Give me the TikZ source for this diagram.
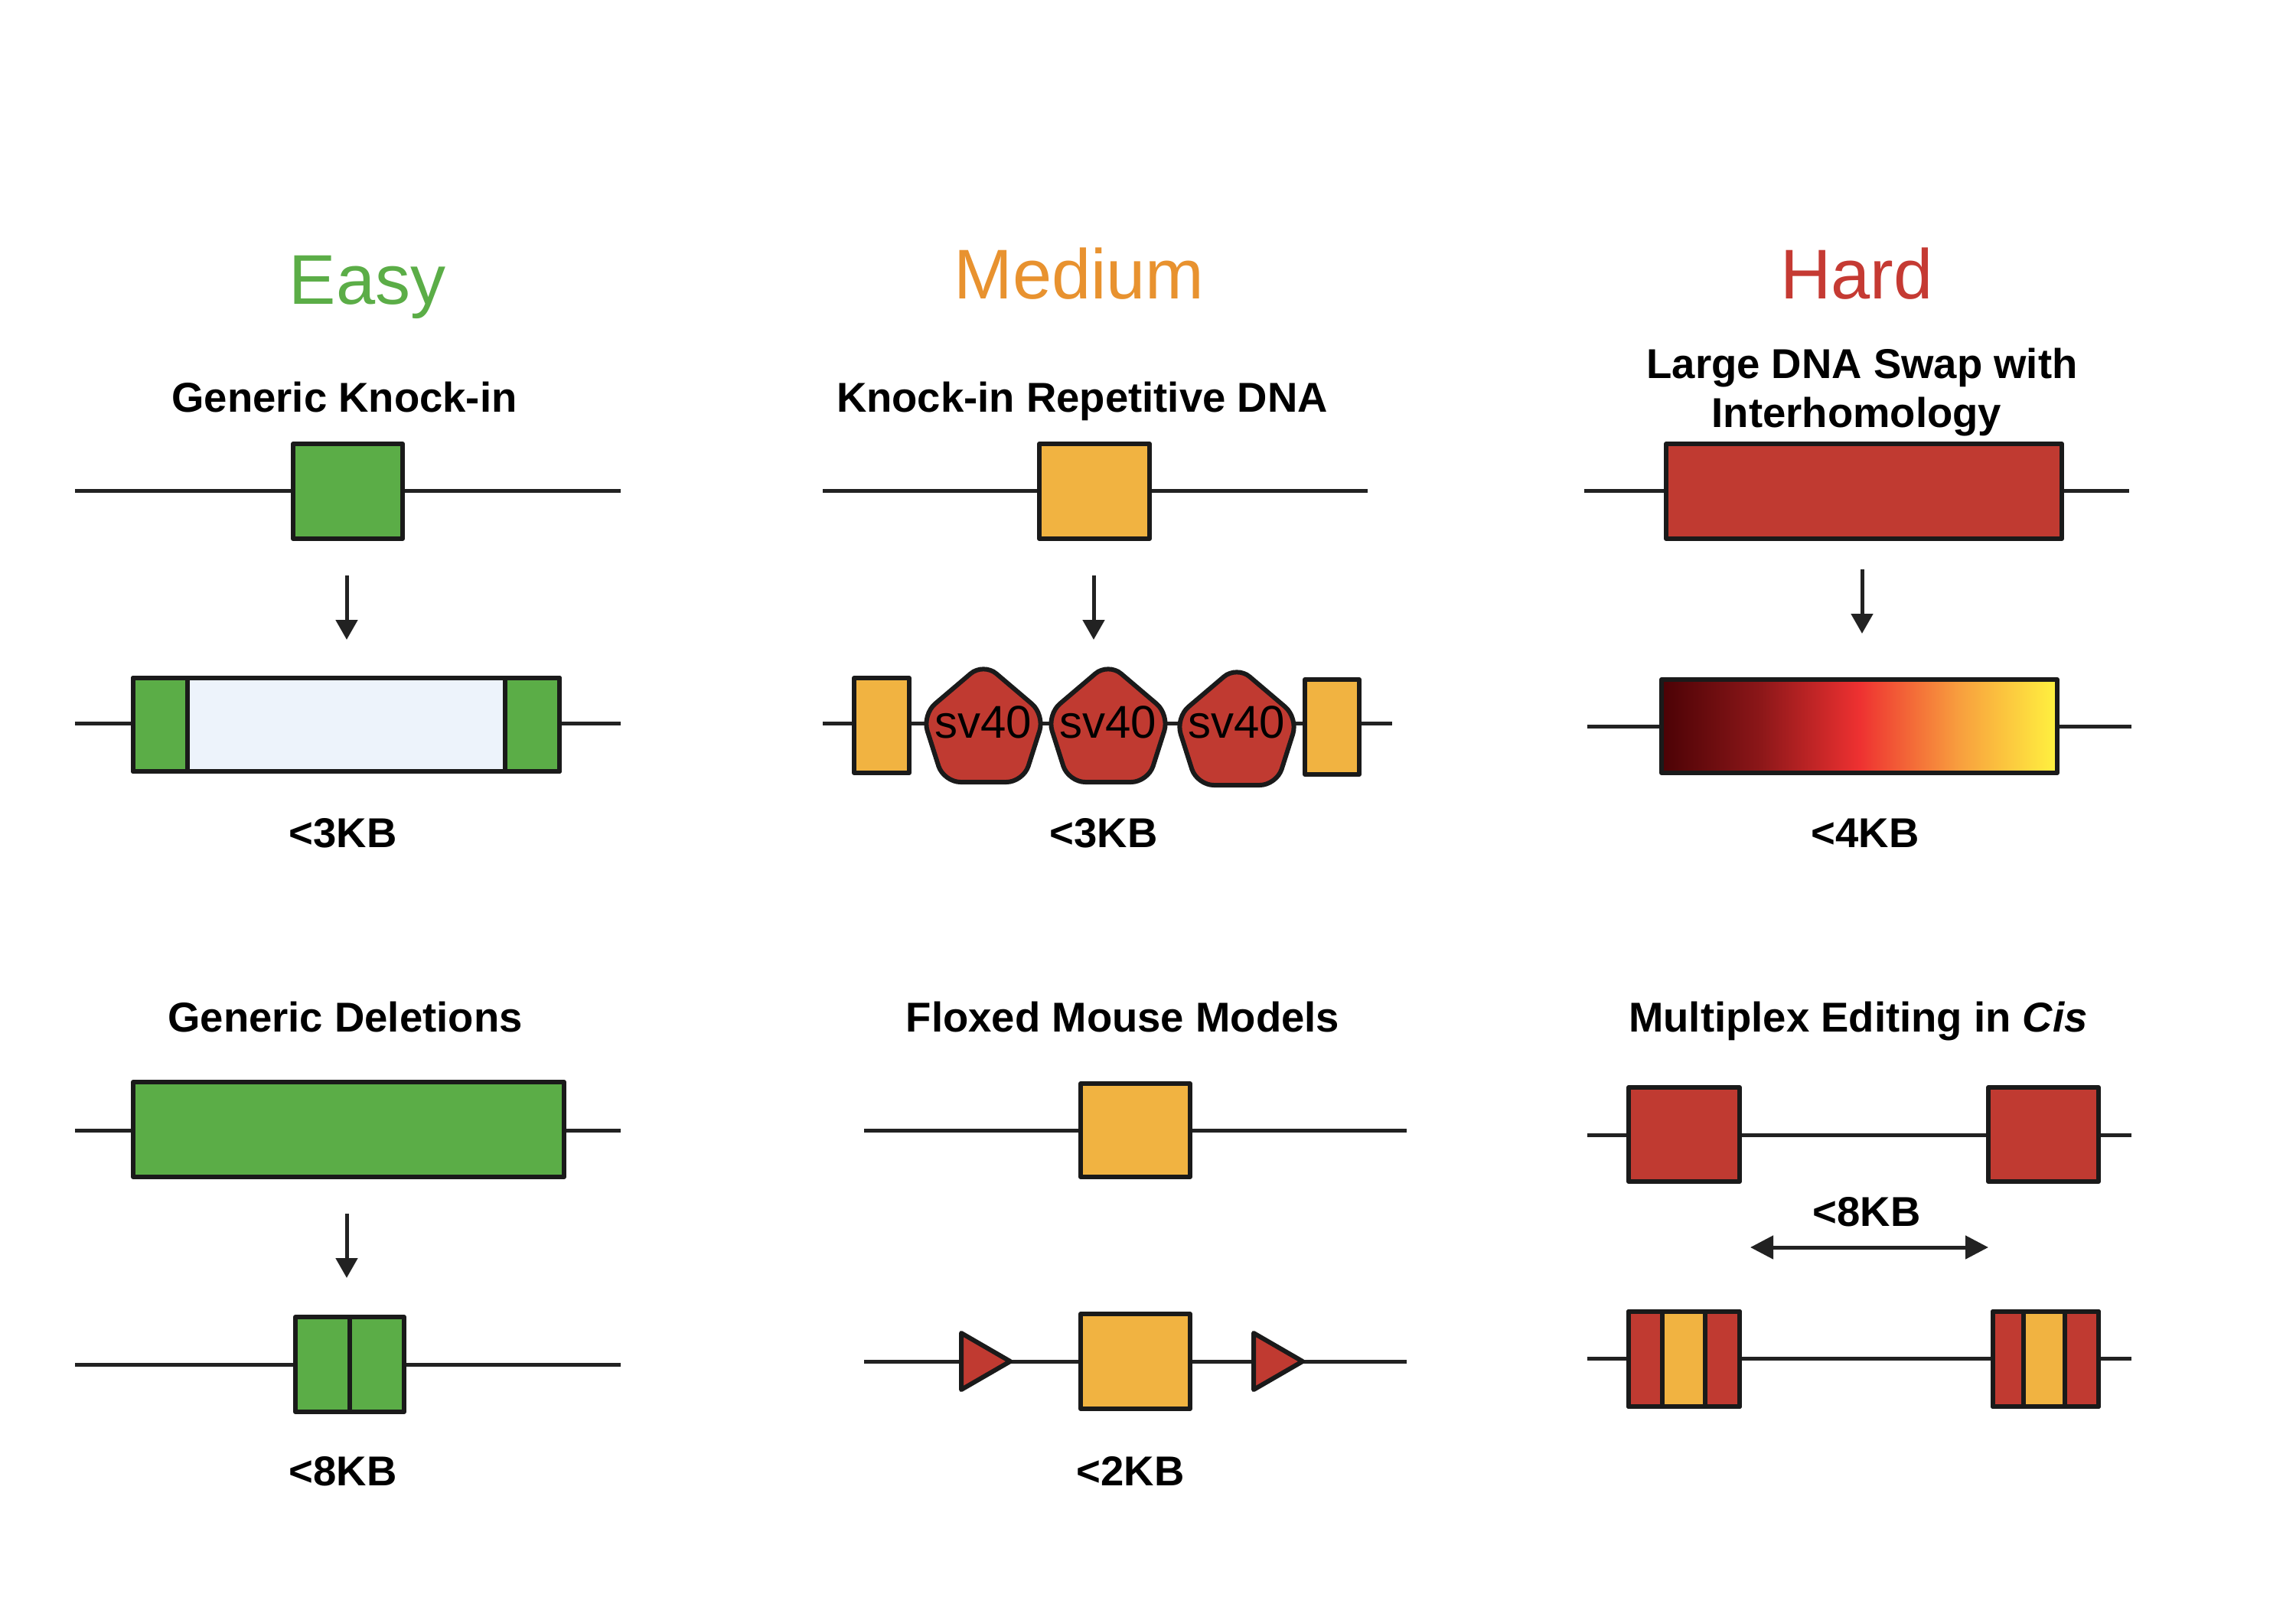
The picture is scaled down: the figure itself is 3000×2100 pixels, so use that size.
\documentclass[tikz,border=0pt]{standalone}
\usepackage{fontspec}
\setmainfont{Liberation Sans}
\usetikzlibrary{arrows.meta}
\definecolor{cgreen}{HTML}{5BAD47}
\definecolor{corange}{HTML}{F1B341}
\definecolor{cred}{HTML}{C03A31}
\definecolor{clblue}{HTML}{EDF3FB}
\definecolor{torange}{HTML}{E8922F}
\definecolor{tred}{HTML}{C53A33}
\definecolor{outl}{HTML}{1A1A1A}
\definecolor{dna}{HTML}{222222}
\definecolor{ga}{HTML}{4B0205}
\definecolor{gb}{HTML}{8C1719}
\definecolor{gc}{HTML}{EE3131}
\definecolor{gd}{HTML}{F89E3E}
\definecolor{ge}{HTML}{FFF23F}
\pgfdeclarehorizontalshading{heat}{100bp}{color(0bp)=(ga); color(25bp)=(ga); color(37.5bp)=(gb); color(50bp)=(gc); color(62.5bp)=(gd); color(75bp)=(ge); color(100bp)=(ge)}
\begin{document}
\begin{tikzpicture}[x=0.1pt,y=-0.1pt,
  dnaline/.style={draw=dna,line width=0.5pt},
  boxout/.style={draw=outl,line width=0.6pt,line join=round},
  ttl/.style={font=\fontsize{9.2pt}{11pt}\selectfont,anchor=base,inner sep=0pt},
  subt/.style={font=\bfseries\fontsize{5.45pt}{6.5pt}\selectfont,anchor=base,inner sep=0pt},
  svtxt/.style={font=\fontsize{6pt}{7pt}\selectfont,anchor=base,inner sep=0pt},
  arr/.style={draw=dna,line width=0.5pt,-{Triangle[length=2.6pt,width=2.8pt]}},
  darr/.style={draw=dna,line width=0.5pt,{Triangle[length=3pt,width=3pt]}-{Triangle[length=3pt,width=3pt]}},
  pent/.style={boxout,fill=cred,rounded corners=2.2pt}
]
\useasboundingbox (0,0) rectangle (3000,2100);

% ---------------- Titles ----------------
\node[ttl,text=cgreen] (easy) at (480,397) {Easy};
\node[ttl,text=torange] (medium) at (1410,390) {Medium};
\node[ttl,text=tred] (hard) at (2426,390) {Hard};

% ================= EASY =================
\node[subt] (gki) at (450,538) {Generic Knock-in};
\draw[dnaline] (98,641) -- (811,641);
\draw[boxout,fill=cgreen] (383,580) rectangle (526,704);
\coordinate (e1s) at (453,752); \coordinate (e1e) at (453,836);
\draw[arr] (e1s) -- (e1e);
\draw[dnaline] (98,945) -- (811,945);
\fill[clblue] (245,886) rectangle (660,1008);
\draw[boxout,fill=cgreen] (174,886) rectangle (245,1008);
\draw[boxout,fill=cgreen] (660,886) rectangle (731,1008);
\draw[boxout] (174,886) rectangle (731,1008);
\node[subt] (kb1) at (448,1107) {<3KB};

\node[subt] (gdel) at (451,1348) {Generic Deletions};
\draw[dnaline] (98,1477) -- (811,1477);
\draw[boxout,fill=cgreen] (174,1414) rectangle (737,1538);
\coordinate (e2s) at (453,1586); \coordinate (e2e) at (453,1670);
\draw[arr] (e2s) -- (e2e);
\draw[dnaline] (98,1783) -- (811,1783);
\draw[boxout,fill=cgreen] (386,1721) rectangle (528,1845);
\draw[boxout] (457,1721) -- (457,1845);
\node[subt] (kb2) at (448,1941) {<8KB};

% ================= MEDIUM =================
\node[subt] (kir) at (1414,538) {Knock-in Repetitive DNA};
\draw[dnaline] (1075,641) -- (1787,641);
\draw[boxout,fill=corange] (1358,580) rectangle (1502,704);
\coordinate (m1s) at (1429,752); \coordinate (m1e) at (1429,836);
\draw[arr] (m1s) -- (m1e);
\draw[dnaline] (1075,945) -- (1819,945);
\draw[boxout,fill=corange] (1116,886) rectangle (1188,1010);
\draw[boxout,fill=corange] (1705,888) rectangle (1776,1012);
\foreach \cx/\dy [count=\i] in {1285/0,1448/0,1616/4}{
  \draw[pent] (\cx,866+\dy) -- (\cx+80,934+\dy) -- (\cx+52,1022+\dy) -- (\cx-52,1022+\dy) -- (\cx-80,934+\dy) -- cycle;
  \node[svtxt] (sv\i) at (\cx,964) {sv40};
}
\node[subt] (kb3) at (1442,1107) {<3KB};

\node[subt] (flox) at (1467,1348) {Floxed Mouse Models};
\draw[dnaline] (1129,1477) -- (1838,1477);
\draw[boxout,fill=corange] (1412,1416) rectangle (1555,1538);
\draw[dnaline] (1129,1779) -- (1838,1779);
\draw[boxout,fill=cred] (1256,1742) -- (1320,1779) -- (1256,1816) -- cycle;
\draw[boxout,fill=cred] (1638,1742) -- (1702,1779) -- (1638,1816) -- cycle;
\draw[boxout,fill=corange] (1412,1717) rectangle (1555,1841);
\node[subt] (kb4) at (1477,1941) {<2KB};

% ================= HARD =================
\node[subt] (lds1) at (2433,494) {Large DNA Swap with};
\node[subt] (lds2) at (2426,558) {Interhomology};
\draw[dnaline] (2070,641) -- (2782,641);
\draw[boxout,fill=cred] (2177,580) rectangle (2694,704);
\coordinate (h1s) at (2433,744); \coordinate (h1e) at (2433,828);
\draw[arr] (h1s) -- (h1e);
\draw[dnaline] (2074,949) -- (2785,949);
\shade[shading=heat] (2171,888) rectangle (2688,1010);
\draw[boxout] (2171,888) rectangle (2688,1010);
\node[subt] (kb5) at (2437,1107) {<4KB};

\node[subt] (mult) at (2428,1348) {Multiplex Editing in \textit{Cis}};
\draw[dnaline] (2074,1483) -- (2785,1483);
\draw[boxout,fill=cred] (2128,1421) rectangle (2273,1544);
\draw[boxout,fill=cred] (2598,1421) rectangle (2742,1544);
\node[subt] (kb6) at (2439,1602) {<8KB};
\coordinate (d1) at (2287,1630); \coordinate (d2) at (2598,1630);
\draw[darr] (d1) -- (d2);
\draw[dnaline] (2074,1775) -- (2785,1775);
\draw[boxout,fill=cred] (2128,1714) rectangle (2273,1838);
\draw[boxout,fill=corange] (2172,1714) rectangle (2228,1838);
\draw[boxout] (2128,1714) rectangle (2273,1838);
\draw[boxout,fill=cred] (2604,1714) rectangle (2742,1838);
\draw[boxout,fill=corange] (2644,1714) rectangle (2698,1838);
\draw[boxout] (2604,1714) rectangle (2742,1838);
\end{tikzpicture}
\end{document}
